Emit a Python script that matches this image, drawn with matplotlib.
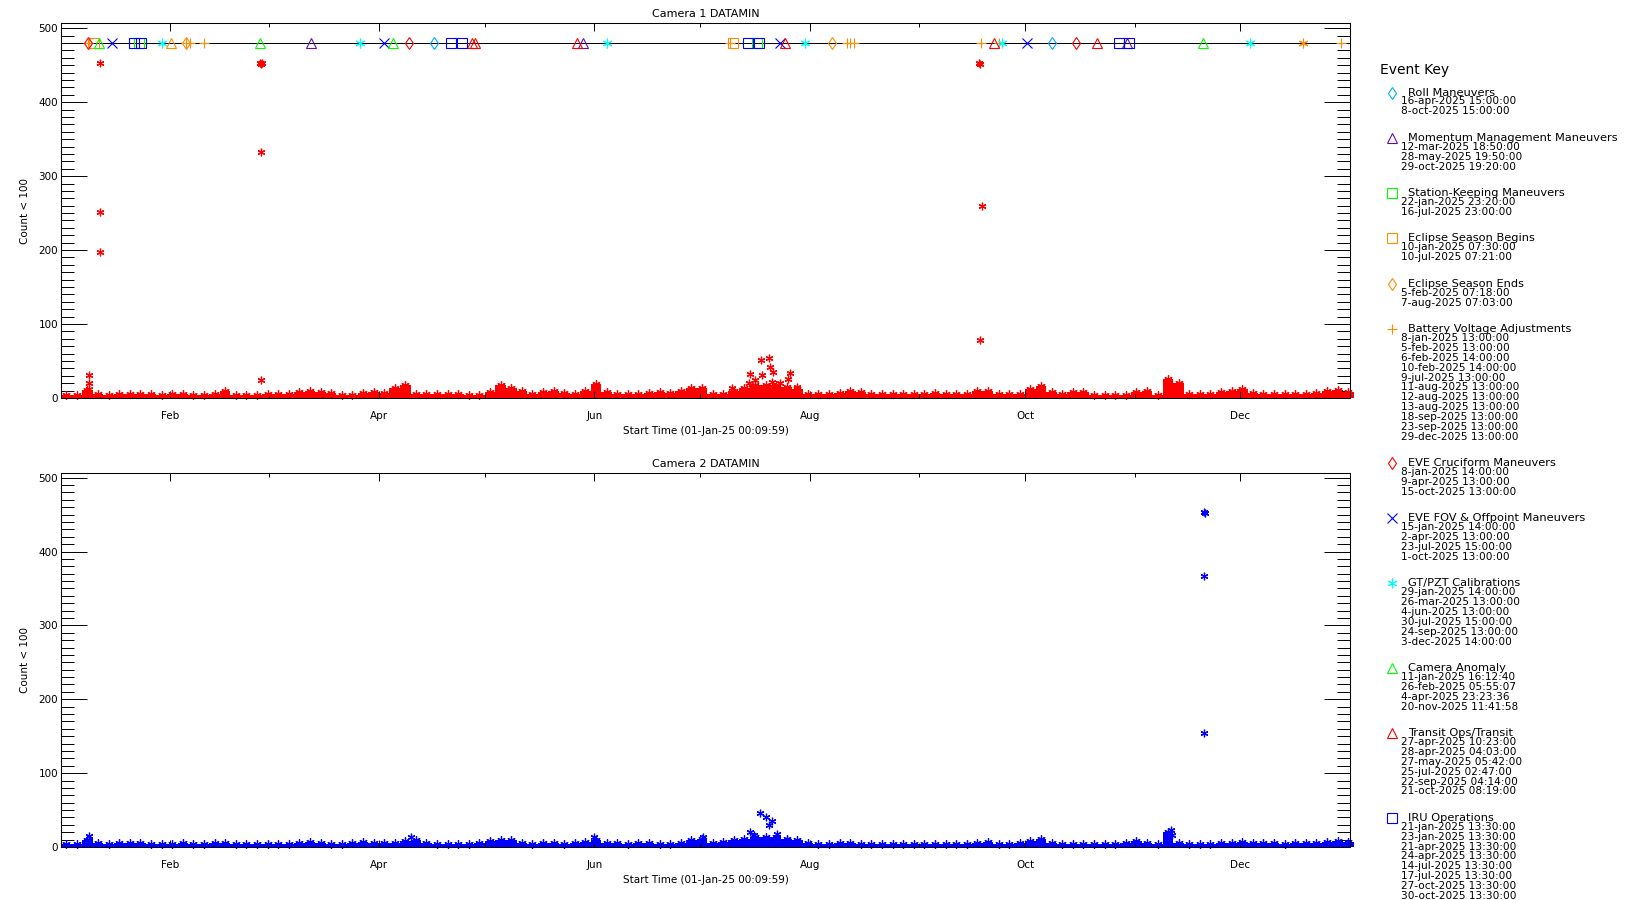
import numpy as np
import matplotlib
matplotlib.use("Agg")
from matplotlib import pyplot as plt
import matplotlib.dates as mdates
from matplotlib.ticker import MultipleLocator
from datetime import datetime

plt.rcParams['font.family'] = ['DejaVu Sans']

# ---- data (days since 01-Jan-2025) ----
bin_start = np.arange(0, 365, 3)   # 3-day bins

cam1_level = [4, 4, 11, 5, 4, 6, 6, 6, 5, 4,
              6, 6, 4, 4, 6, 10, 4, 4, 4, 5,
              6, 6, 8, 9, 8, 7, 4, 4, 7, 8,
              7, 13, 17, 5, 5, 5, 5, 5, 4, 4,
              8, 18, 14, 10, 5, 8, 9, 7, 6, 10,
              19, 8, 5, 5, 5, 7, 8, 7, 9, 14,
              13, 6, 6, 10, 14, 18, 18, 17, 15, 12,
              6, 5, 5, 7, 10, 8, 5, 5, 5, 5,
              5, 6, 7, 5, 5, 6, 10, 10, 5, 5,
              5, 12, 16, 8, 5, 8, 8, 4, 4, 4,
              4, 8, 9, 4, 26, 20, 5, 5, 5, 8,
              9, 12, 7, 5, 5, 5, 5, 6, 7, 10,
              11, 8]

cam2_level = [4, 4, 10, 5, 4, 5, 5, 5, 4, 4,
              4, 5, 4, 4, 5, 6, 4, 4, 4, 4,
              4, 4, 6, 7, 5, 4, 4, 5, 7, 6,
              6, 5, 8, 10, 5, 4, 4, 4, 4, 5,
              8, 10, 9, 6, 4, 5, 5, 4, 5, 7,
              10, 6, 5, 4, 5, 5, 4, 4, 6, 10,
              11, 5, 7, 9, 11, 14, 14, 14, 11, 9,
              5, 4, 4, 5, 5, 4, 4, 4, 4, 4,
              4, 4, 4, 4, 4, 4, 6, 7, 4, 4,
              5, 8, 11, 6, 4, 4, 4, 4, 4, 4,
              5, 8, 6, 4, 20, 5, 4, 4, 4, 6,
              6, 7, 5, 5, 6, 4, 5, 6, 6, 7,
              8, 7]

cam1_spike_day = [7.8, 7.8, 7.8, 11.0, 11.0, 11.1, 56.3, 56.6, 56.8, 56.5, 56.6,
                  190.0, 194.7, 195.2, 196.6, 198.3, 198.5, 200.4, 200.8, 201.3,
                  201.5, 203.7, 205.9, 206.3, 208.4, 259.9, 260.3, 260.7, 260.1]
cam1_spike_val = [31, 20, 12, 453, 252, 198, 453, 452, 453, 333, 24,
                  13, 20, 32, 24, 52, 31, 54, 42, 22,
                  35, 20, 26, 34, 15, 453, 452, 259, 78]

cam2_spike_day = [7.8, 7.8, 99.2, 150.8, 181.8, 195.0, 196.2, 198.0, 199.7,
                  200.6, 201.2, 202.7, 205.6, 314.4, 314.6, 323.6, 323.9, 323.8, 323.8]
cam2_spike_val = [15, 10, 13, 13, 14, 20, 16, 46, 40,
                  30, 35, 18, 10, 23, 16, 453, 452, 367, 154]

# ---- events ----
roll = ["16-apr-2025 15:00:00", "8-oct-2025 15:00:00"]
momentum = ["12-mar-2025 18:50:00", "28-may-2025 19:50:00", "29-oct-2025 19:20:00"]
station = ["22-jan-2025 23:20:00", "16-jul-2025 23:00:00"]
eclipse_begin = ["10-jan-2025 07:30:00", "10-jul-2025 07:21:00"]
eclipse_end = ["5-feb-2025 07:18:00", "7-aug-2025 07:03:00"]
battery = ["8-jan-2025 13:00:00", "5-feb-2025 13:00:00", "6-feb-2025 14:00:00",
           "10-feb-2025 14:00:00", "9-jul-2025 13:00:00", "11-aug-2025 13:00:00",
           "12-aug-2025 13:00:00", "13-aug-2025 13:00:00", "18-sep-2025 13:00:00",
           "23-sep-2025 13:00:00", "29-dec-2025 13:00:00"]
cruciform = ["8-jan-2025 14:00:00", "9-apr-2025 13:00:00", "15-oct-2025 13:00:00"]
fov = ["15-jan-2025 14:00:00", "2-apr-2025 13:00:00", "23-jul-2025 15:00:00",
       "1-oct-2025 13:00:00"]
gtpzt = ["29-jan-2025 14:00:00", "26-mar-2025 13:00:00", "4-jun-2025 13:00:00",
         "30-jul-2025 15:00:00", "24-sep-2025 13:00:00", "3-dec-2025 14:00:00"]
anomaly = ["11-jan-2025 16:12:40", "26-feb-2025 05:55:07", "4-apr-2025 23:23:36",
           "20-nov-2025 11:41:58"]
transit = ["27-apr-2025 10:23:00", "28-apr-2025 04:03:00", "27-may-2025 05:42:00",
           "25-jul-2025 02:47:00", "22-sep-2025 04:14:00", "21-oct-2025 08:19:00"]
iru = ["21-jan-2025 13:30:00", "23-jan-2025 13:30:00", "21-apr-2025 13:30:00",
       "24-apr-2025 13:30:00", "14-jul-2025 13:30:00", "17-jul-2025 13:30:00",
       "27-oct-2025 13:30:00", "30-oct-2025 13:30:00"]
# events whose key entries fall below the visible area
extra_tri = ["1-feb-2025 07:00:00"]
extra_ast = ["18-dec-2025 19:00:00"]

AST = (6, 2, 0)
ORANGE = "#ff8c00"
key = [
    ("Roll Maneuvers", roll, "d", "#00aaff"),
    ("Momentum Management Maneuvers", momentum, "^", "#6010a8"),
    ("Station-Keeping Maneuvers", station, "s", "#00ff00"),
    ("Eclipse Season Begins", eclipse_begin, "s", ORANGE),
    ("Eclipse Season Ends", eclipse_end, "d", ORANGE),
    ("Battery Voltage Adjustments", battery, "+", ORANGE),
    ("EVE Cruciform Maneuvers", cruciform, "d", "#ff0000"),
    ("EVE FOV & Offpoint Maneuvers", fov, "x", "#0000ff"),
    ("GT/PZT Calibrations", gtpzt, AST, "#00ffff"),
    ("Camera Anomaly", anomaly, "^", "#00ff00"),
    ("Transit Ops/Transit", transit, "^", "#ff0000"),
    ("IRU Operations", iru, "s", "#0000ff"),
]


def to_num(strs):
    return mdates.date2num([datetime.strptime(s, "%d-%b-%Y %H:%M:%S") for s in strs])


def msize(mk):
    return 6.5 if mk == "d" else 7


base = mdates.date2num(datetime(2025, 1, 1))
t_start = datetime(2025, 1, 1, 0, 9, 59)
t_end = datetime(2026, 1, 1, 0, 9, 59)

W, H = 1650, 900
fig = plt.figure(figsize=(W / 100, H / 100), dpi=100)


def mk_axes(top, bottom):
    return fig.add_axes([61 / W, 1 - bottom / H, (1350 - 61) / W, (bottom - top) / H])


ax1 = mk_axes(23, 398)
ax2 = mk_axes(472.5, 847)


def style(ax, title):
    ax.set_xlim(t_start, t_end)
    ax.set_ylim(0, 507)
    ax.xaxis.set_major_locator(mdates.MonthLocator(bymonth=[2, 4, 6, 8, 10, 12]))
    ax.xaxis.set_minor_locator(mdates.MonthLocator())
    ax.xaxis.set_major_formatter(mdates.DateFormatter("%b"))
    ax.yaxis.set_major_locator(MultipleLocator(100))
    ax.yaxis.set_minor_locator(MultipleLocator(10))
    ax.tick_params(axis="x", which="major", direction="in", length=5.4, width=0.7,
                   top=True, bottom=True, pad=9, labelsize=7.5)
    ax.tick_params(axis="x", which="minor", direction="in", length=2.7, width=0.7,
                   top=True, bottom=True)
    ax.tick_params(axis="y", which="major", direction="in", length=18.6, width=0.7,
                   left=True, right=True, pad=2, labelsize=7.5)
    ax.tick_params(axis="y", which="minor", direction="in", length=9.3, width=0.7,
                   left=True, right=True)
    for sp in ax.spines.values():
        sp.set_linewidth(0.75)
    ax.set_title(title, fontsize=8, pad=4)
    ax.set_xlabel("Start Time (01-Jan-25 00:09:59)", fontsize=7.5, labelpad=4)
    ax.set_ylabel("Count < 100", fontsize=7.5, labelpad=6)


def draw_counts(ax, level, sday, sval, col):
    x = base + bin_start + 1.5
    ax.bar(x, level, width=3, color=col, linewidth=0, clip_on=False)
    ax.plot(x, level, ls="none", marker=AST, ms=6, mew=0.9, color=col, clip_on=False)
    ax.plot(base + np.array(sday), sval, ls="none", marker=AST, ms=5.5, mew=0.9,
            color=col, clip_on=False)


style(ax1, "Camera 1 DATAMIN")
style(ax2, "Camera 2 DATAMIN")
draw_counts(ax1, cam1_level, cam1_spike_day, cam1_spike_val, "#ff0000")
draw_counts(ax2, cam2_level, cam2_spike_day, cam2_spike_val, "#0000ff")

# event markers along the 480 line of camera 1
ax1.axhline(480, color="black", lw=0.75)
for label, dates, mk, col in key:
    xs = to_num(dates)
    ax1.plot(xs, [480] * len(xs), ls="none", marker=mk, ms=msize(mk), mew=0.8,
             mfc="none", mec=col, color=col)
ax1.plot(to_num(extra_tri), [480], ls="none", marker="^", ms=7, mew=0.8,
         mfc="none", mec=ORANGE)
ax1.plot(to_num(extra_ast), [480], ls="none", marker=AST, ms=7, mew=0.8, color=ORANGE)

# event key
kax = fig.add_axes([1360 / W, 0, (W - 1360) / W, 1])
kax.set_xlim(1360, W)
kax.set_ylim(H, 0)
kax.axis("off")
kax.text(1380, 70, "Event Key", fontsize=10, va="center")
y = 92.5
step = 9.85
for label, dates, mk, col in key:
    kax.plot(1392, y, marker=mk, ms=msize(mk), mew=0.8, mfc="none", mec=col,
             color=col, clip_on=False)
    kax.text(1408, y, label, fontsize=8.2, va="center")
    yy = y + 9
    for d in dates:
        kax.text(1401, yy, d, fontsize=7.6, va="center")
        yy += step
    y = yy - step + 26.5

fig.savefig("out.png", dpi=100)
